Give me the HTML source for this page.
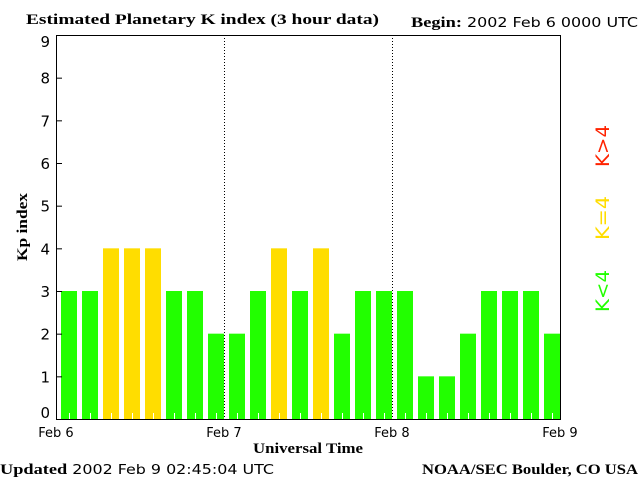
<!DOCTYPE html>
<html><head><meta charset="utf-8"><style>
body{margin:0;background:#fff;width:640px;height:480px;overflow:hidden}
svg{display:block}
text{font-family:"DejaVu Sans","Liberation Sans",sans-serif;font-size:13px;fill:#000}
.b{font-family:"Liberation Serif",serif;font-weight:bold;font-size:15px}
</style></head><body>
<svg id="c" width="640" height="480">
<text class="b" x="26" y="24" textLength="353" lengthAdjust="spacingAndGlyphs">Estimated Planetary K index (3 hour data)</text>
<text x="411" y="27" textLength="227" lengthAdjust="spacingAndGlyphs"><tspan class="b">Begin:</tspan> 2002 Feb 6 0000 UTC</text>
<g id="bars"></g>
<rect x="56.5" y="35.5" width="504" height="384" fill="none" stroke="#000" stroke-width="1"/>
<g id="axes"></g>
<text class="b" x="308" y="453" text-anchor="middle" textLength="110" lengthAdjust="spacingAndGlyphs">Universal Time</text>
<text class="b" transform="translate(27,227) rotate(-90)" text-anchor="middle" textLength="68" lengthAdjust="spacingAndGlyphs">Kp index</text>
<text x="0" y="474" textLength="274" lengthAdjust="spacingAndGlyphs"><tspan class="b">Updated</tspan> 2002 Feb  9 02:45:04 UTC</text>
<text class="b" x="422" y="474" textLength="216" lengthAdjust="spacingAndGlyphs">NOAA/SEC Boulder, CO USA</text>
<text transform="translate(609,312) rotate(-90)" textLength="42" lengthAdjust="spacingAndGlyphs" style="fill:#22ff00;font-size:19px">K&lt;4</text>
<text transform="translate(609,240) rotate(-90)" textLength="44" lengthAdjust="spacingAndGlyphs" style="fill:#ffdd00;font-size:19px">K=4</text>
<text transform="translate(609,167) rotate(-90)" textLength="42" lengthAdjust="spacingAndGlyphs" style="fill:#ff2200;font-size:19px">K&gt;4</text>
</svg>
<script>
const kpValues=[3,3,4,4,4,3,3,2,2,3,4,3,4,2,3,3,3,1,1,2,3,3,3,2];
const yTicks=[0,1,2,3,4,5,6,7,8,9];
const dayLabels=["Feb 6","Feb 7","Feb 8","Feb 9"];
const NS="http://www.w3.org/2000/svg";
const x0=56,x1=560,yb=419,yt=35;
const slot=(x1-x0)/kpValues.length;
const y=v=>yb-v*(yb-yt)/9;
const bars=document.getElementById('bars'),axes=document.getElementById('axes');
kpValues.forEach((v,i)=>{
  const r=document.createElementNS(NS,'rect');
  r.setAttribute('x',x0+i*slot+5);r.setAttribute('y',y(v));
  r.setAttribute('width',slot-5);r.setAttribute('height',yb-y(v));
  r.setAttribute('fill',v<4?'#22ff00':(v==4?'#ffdd00':'#ff2200'));
  
  
  bars.appendChild(r);
  const t=document.createElementNS(NS,'line');
  const cx=Math.round(x0+i*slot+5+(slot-5)/2)+0.5;
  t.setAttribute('x1',cx);t.setAttribute('x2',cx);t.setAttribute('y1',yb-6);t.setAttribute('y2',yb);
  t.setAttribute('stroke','#fff');
  
  
  bars.appendChild(t);
});
yTicks.forEach(v=>{
  const l=document.createElementNS(NS,'line');
  l.setAttribute('x1',x0);l.setAttribute('x2',x0+6);l.setAttribute('y1',y(v)+0.5);l.setAttribute('y2',y(v)+0.5);
  l.setAttribute('stroke','#000');
  
  
  axes.appendChild(l);
  const t=document.createElementNS(NS,'text');
  t.setAttribute('x',50);t.setAttribute('y',Math.min(418,Math.max(47,y(v)+6)));t.setAttribute('text-anchor','end');
  t.setAttribute('style','font-size:15px');
  t.textContent=v;
  
  
  axes.appendChild(t);
});
dayLabels.forEach((d,i)=>{
  const px=x0+i*(x1-x0)/(dayLabels.length-1);
  if(i>0&&i<dayLabels.length-1){
    const l=document.createElementNS(NS,'line');
    l.setAttribute('x1',px+0.5);l.setAttribute('x2',px+0.5);l.setAttribute('y1',yt);l.setAttribute('y2',yb);
    l.setAttribute('stroke','#000');l.setAttribute('stroke-dasharray','1,2');
    
    
    axes.appendChild(l);
  }
  const t=document.createElementNS(NS,'text');
  t.setAttribute('x',px);t.setAttribute('y',437);t.setAttribute('text-anchor','middle');
  t.textContent=d;
  
  
  axes.appendChild(t);
});
</script>
</body></html>
